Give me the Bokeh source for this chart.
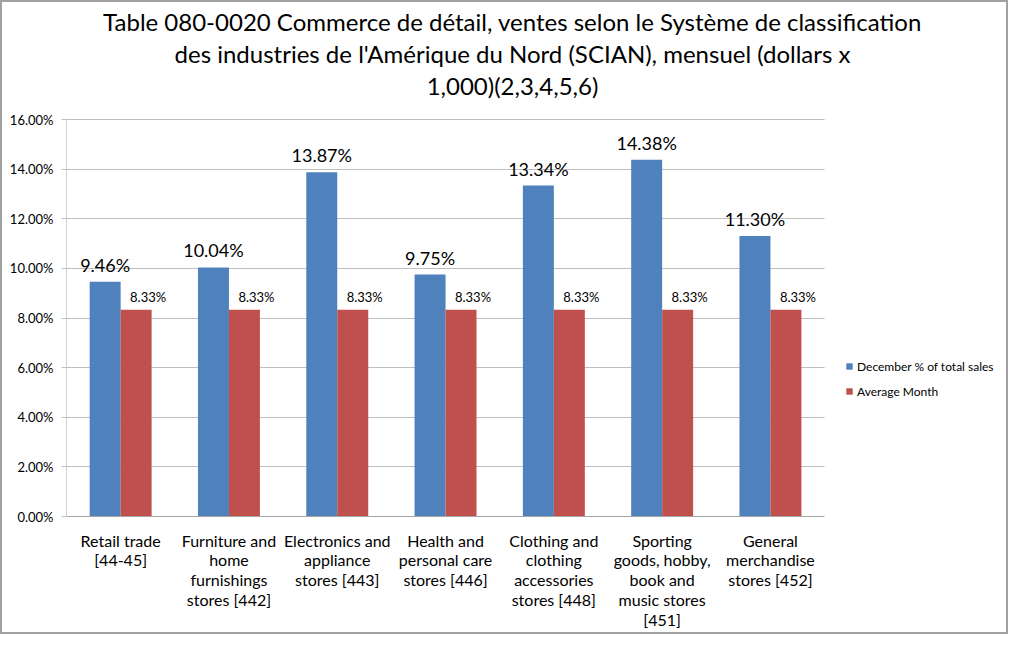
from bokeh.plotting import figure
from bokeh.models import (ColumnDataSource, Range1d, FixedTicker, BoxAnnotation,
                          NumeralTickFormatter, LabelSet, Label, Legend, LegendItem)
from bokeh.core.properties import value
from bokeh.transform import dodge
from bokeh.embed import file_html
from bokeh.resources import INLINE

# ---- data ----
categories = [
    "Retail trade\n[44-45]",
    "Furniture and\nhome\nfurnishings\nstores [442]",
    "Electronics and\nappliance\nstores [443]",
    "Health and\npersonal care\nstores [446]",
    "Clothing and\nclothing\naccessories\nstores [448]",
    "Sporting\ngoods, hobby,\nbook and\nmusic stores\n[451]",
    "General\nmerchandise\nstores [452]",
]
december_share = [0.0946, 0.1004, 0.1387, 0.0975, 0.1334, 0.1438, 0.1130]
average_month = [0.0833, 0.0833, 0.0833, 0.0833, 0.0833, 0.0833, 0.0833]
series_names = ["December % of total sales", "Average Month"]
y_ticks = [0.0, 0.02, 0.04, 0.06, 0.08, 0.10, 0.12, 0.14, 0.16]
title_lines = [
    "Table 080-0020 Commerce de détail, ventes selon le Système de classification",
    "des industries de l'Amérique du Nord (SCIAN), mensuel (dollars x",
    "1,000)(2,3,4,5,6)",
]

BLUE = "#4F81BD"
RED = "#C0504D"
FONT = "Lato"

n = len(categories)
centers = [i + 0.5 for i in range(n)]
source = ColumnDataSource(dict(
    xc=centers,
    dec=december_share,
    avg=average_month,
    dec_txt=[f"{v:.2%}" for v in december_share],
    avg_txt=[f"{v:.2%}" for v in average_month],
))

# layout geometry (pixels)
CAT_PX = 108.3          # width of one category slot
PLOT_PX = 397           # height of the 0..16% plot area
FRAME_W, FRAME_H = 940, 514
y_top = y_ticks[-1]

p = figure(
    x_range=Range1d(0, FRAME_W / CAT_PX),
    y_range=Range1d(0, y_top * FRAME_H / PLOT_PX),
    frame_width=FRAME_W, frame_height=FRAME_H,
    output_backend="svg", toolbar_location=None,
    min_border_left=64, min_border_right=0,
    min_border_top=0, min_border_bottom=116,
)
p.title = None
p.styles = {"border": "2px solid #A0A0A0"}
p.outline_line_color = None
p.background_fill_color = "white"
p.border_fill_color = "white"

# gridlines
p.xgrid.grid_line_color = None
p.ygrid.grid_line_color = "#BFBFBF"
p.ygrid.ticker = FixedTicker(ticks=y_ticks)
# blank out gridlines in the legend area (right of the plot area)
p.add_layout(BoxAnnotation(left=n, fill_color="white", fill_alpha=1.0,
                           line_color=None, level="underlay"))

bw = 0.286
r1 = p.vbar(x=dodge("xc", -bw / 2), top="dec", width=bw,
            source=source, fill_color=BLUE, line_color=None)
r2 = p.vbar(x=dodge("xc", bw / 2), top="avg", width=bw,
            source=source, fill_color=RED, line_color=None)

# y axis
p.yaxis.ticker = FixedTicker(ticks=y_ticks)
p.yaxis.bounds = (0, y_top)
p.yaxis.formatter = NumeralTickFormatter(format="0.00%")
p.yaxis.axis_line_color = "#D0D0D0"
p.yaxis.major_tick_line_color = "#BFBFBF"
p.yaxis.major_tick_out = 5
p.yaxis.major_tick_in = 0
p.yaxis.minor_tick_line_color = None
p.yaxis.major_label_text_font = FONT
p.yaxis.major_label_text_font_size = "13px"
p.yaxis.major_label_text_color = "#000000"
p.yaxis.major_label_standoff = 8

# x axis
p.xaxis.ticker = FixedTicker(ticks=centers)
p.xaxis.major_label_overrides = {c: lab for c, lab in zip(centers, categories)}
p.xaxis.bounds = (0, n)
p.xaxis.axis_line_color = "#A6A6A6"
p.xaxis.major_tick_line_color = None
p.xaxis.minor_tick_line_color = None
p.xaxis.major_label_text_font = FONT
p.xaxis.major_label_text_font_size = "16px"
p.xaxis.major_label_text_color = "#000000"
p.xaxis.major_label_text_line_height = 1.05
p.xaxis.major_label_standoff = 8

# data labels
p.add_layout(LabelSet(x=dodge("xc", -bw / 2), y="dec", text="dec_txt",
                      source=source, text_align="center", text_baseline="middle",
                      y_offset=17, text_font=value(FONT), text_font_size="18px",
                      text_color="#000000"))
p.add_layout(LabelSet(x=dodge("xc", bw / 2), y="avg", text="avg_txt",
                      source=source, text_align="center", text_baseline="middle",
                      x_offset=12, y_offset=13, text_font=value(FONT), text_font_size="13px",
                      text_color="#000000"))

# title lines, positioned relative to the top of the plot area
for line, yc in zip(title_lines, [21, 53, 85]):
    p.add_layout(Label(x=446, x_units="screen", y=y_top, y_offset=119 - yc,
                       text=line, text_align="center", text_baseline="middle",
                       text_font=FONT, text_font_size="24px", text_color="#000000"))

legend = Legend(items=[LegendItem(label=series_names[0], renderers=[r1]),
                       LegendItem(label=series_names[1], renderers=[r2])],
                location=(779, 115), orientation="vertical",
                padding=0, margin=0, spacing=5, label_standoff=4,
                glyph_width=8, glyph_height=8, label_height=20,
                label_text_font=FONT, label_text_font_size="12px",
                label_text_color="#000000",
                border_line_color=None, background_fill_alpha=0)
p.add_layout(legend, "center")

open("out.html", "w").write(file_html(p, INLINE))
